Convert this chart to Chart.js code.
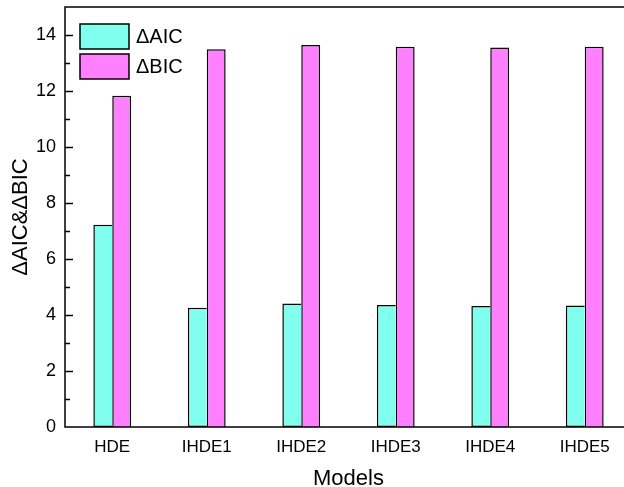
<!DOCTYPE html>
<html>
<head>
<meta charset="utf-8">
<script src="https://cdn.jsdelivr.net/npm/chart.js@4"></script>
<style>
  html, body { margin: 0; padding: 0; background: #fff; overflow: hidden; }
  #wrap { width: 640px; height: 487px; }
</style>
</head>
<body>
<div id="wrap"><canvas id="myChart"></canvas></div>
<script>
var models = ["HDE", "IHDE1", "IHDE2", "IHDE3", "IHDE4", "IHDE5"];
var deltaAIC = [7.22, 4.26, 4.41, 4.36, 4.32, 4.34];
var deltaBIC = [11.83, 13.49, 13.64, 13.58, 13.55, 13.58];
var seriesNames = ["\u0394AIC", "\u0394BIC"];

var FONT = "Liberation Sans, Arial, sans-serif";

// frame + inward ticks, like the Origin plot
var framePlugin = {
  id: "frame",
  afterDatasetsDraw: function (chart) {
    var c = chart.ctx, a = chart.chartArea, y = chart.scales.y;
    c.save();
    c.strokeStyle = "#000";
    c.lineWidth = 1.5;
    c.strokeRect(a.left, a.top, a.right - a.left, a.bottom - a.top);
    for (var v = 1; v <= 14; v++) {
      var py = Math.round(y.getPixelForValue(v)) + 0.5;
      var len = v % 2 === 0 ? 8 : 5;
      c.beginPath();
      c.moveTo(a.left, py); c.lineTo(a.left + len, py);
      c.moveTo(a.right, py); c.lineTo(a.right - len, py);
      c.stroke();
    }
    c.restore();
  }
};

// legend box inside the plot, top left
var legendPlugin = {
  id: "boxLegend",
  afterDraw: function (chart) {
    var c = chart.ctx, a = chart.chartArea;
    c.save();
    c.font = "20px " + FONT;
    c.textBaseline = "middle";
    chart.data.datasets.forEach(function (ds, i) {
      var x = a.left + 15, top = a.top + 17 + i * 30;
      c.fillStyle = ds.backgroundColor;
      c.fillRect(x, top, 49, 25);
      c.strokeStyle = "#000";
      c.lineWidth = 1.5;
      c.strokeRect(x, top, 49, 25);
      c.fillStyle = "#000";
      c.fillText(ds.label, x + 56, top + 13);
    });
    c.restore();
  }
};

var ctx = document.getElementById("myChart");
var myChart = new Chart(ctx, {
  type: "bar",
  data: {
    labels: models,
    datasets: [
      {
        label: seriesNames[0],
        data: deltaAIC,
        backgroundColor: "#80FFEE",
        borderColor: "#000",
        borderWidth: 1.5,
        borderSkipped: "right",
      },
      {
        label: seriesNames[1],
        data: deltaBIC,
        backgroundColor: "#FF80FF",
        borderColor: "#000",
        borderWidth: 1.5,
      },
    ],
  },
  options: {
    responsive: true,
    maintainAspectRatio: false,
    animation: false,
    categoryPercentage: 0.4,
    barPercentage: 1,
    layout: { padding: { left: 0, top: 7, right: 8, bottom: 0 } },
    plugins: {
      legend: { display: false },
      tooltip: { enabled: false },
    },
    scales: {
      x: {
        grid: { display: false, drawTicks: false },
        border: { display: false },
        ticks: { color: "#000", font: { family: FONT, size: 17 }, padding: 10, maxRotation: 0 },
        title: { display: true, text: "Models", color: "#000", font: { family: FONT, size: 22 }, padding: { top: 4, bottom: -5 } },
        afterFit: function (s) { s.height = 60; s.paddingLeft = 0; s.paddingRight = 0; },
      },
      y: {
        min: 0,
        max: 15,
        grid: { display: false, drawTicks: false },
        border: { display: false },
        ticks: {
          stepSize: 1,
          includeBounds: false,
          color: "#000",
          font: { family: FONT, size: 18 },
          padding: 9,
          callback: function (v) { return v % 2 === 0 ? v : ""; },
        },
        title: { display: true, text: "\u0394AIC&\u0394BIC", color: "#000", font: { family: FONT, size: 22 }, padding: { top: 8, bottom: 4 } },
        afterFit: function (s) { s.width = 65; s.paddingTop = 0; s.paddingBottom = 0; },
      },
    },
  },
  plugins: [framePlugin, legendPlugin],
});
</script>
</body>
</html>
